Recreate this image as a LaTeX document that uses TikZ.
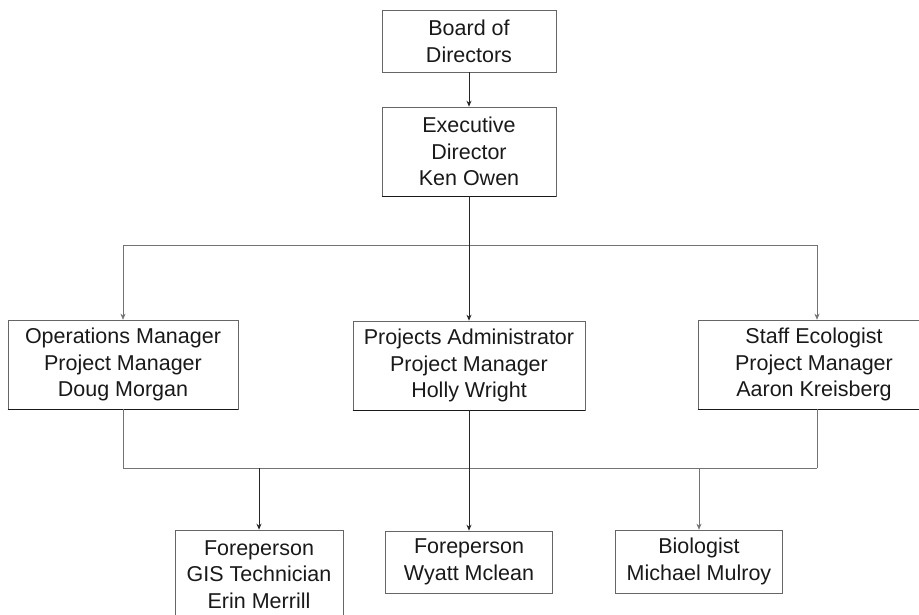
\documentclass[tikz,border=0pt]{standalone}
\usepackage{fontspec}
\setmainfont{Liberation Sans}
\usetikzlibrary{arrows.meta}
\begin{document}
\begin{tikzpicture}[x=1pt,y=-1pt,
  box/.style={draw=black!60, line width=0.6pt, align=center, inner sep=0pt,
    font=\fontsize{21.5}{26.7}\selectfont, text=black!90},
  conn/.style={draw=black!55, line width=0.6pt},
  darkconn/.style={draw=black!85, line width=0.9pt},
  tip/.style={-{Stealth[length=6pt,width=5pt]}},
  base/.style={draw=black!90, line width=1pt}]
\useasboundingbox (0,0) rectangle (919,615);
% boxes
\node[box, minimum width=174pt, minimum height=62pt] (board) at (469,41) {Board of\\Directors};
\node[box, minimum width=174pt, minimum height=89pt] (exec) at (469,151.5) {Executive\\Director\\Ken Owen};
\node[box, minimum width=230pt, minimum height=89pt] (ops) at (123,364.5) {Operations Manager\\Project Manager\\Doug Morgan};
\node[box, minimum width=232pt, minimum height=89pt] (proj) at (469,365.5) {Projects Administrator\\Project Manager\\Holly Wright};
\node[box, minimum width=232pt, minimum height=89pt] (staff) at (814,364.5) {Staff Ecologist\\Project Manager\\Aaron Kreisberg};
\node[box, minimum width=168pt, minimum height=89pt] (gis) at (259,574.5) {Foreperson\\GIS Technician\\Erin Merrill};
\node[box, minimum width=167pt, minimum height=62pt] (wyatt) at (469,562) {Foreperson\\Wyatt Mclean};
\node[box, minimum width=167pt, minimum height=63pt] (bio) at (699,561.5) {Biologist\\Michael Mulroy};
% darker bottom edges
\foreach \b in {exec,ops,proj,staff}{\draw[base] (\b.south west) -- (\b.south east);}
% coordinates
\coordinate (busL) at (123,245);
\coordinate (busR) at (817,245);
\coordinate (lowL) at (123,468);
\coordinate (lowR) at (817,468);
\coordinate (lowG) at (259,468);
\coordinate (lowB) at (699,468);
% connectors
\draw[darkconn, tip] (board.south) -- (exec.north);
\draw[conn] (busL) -- (busR);
\draw[conn, tip] (busL) -- (ops.north);
\draw[darkconn, tip] (exec.south) -- (proj.north);
\draw[conn, tip] (busR) -- (busR |- staff.north);
\draw[conn] (ops.south) -- (lowL);
\draw[conn] (lowR |- staff.south) -- (lowR);
\draw[conn] (lowL) -- (lowR);
\draw[darkconn, tip] (proj.south) -- (wyatt.north);
\draw[darkconn, tip] (lowG) -- (gis.north);
\draw[conn, tip] (lowB) -- (bio.north);
\end{tikzpicture}
\end{document}
